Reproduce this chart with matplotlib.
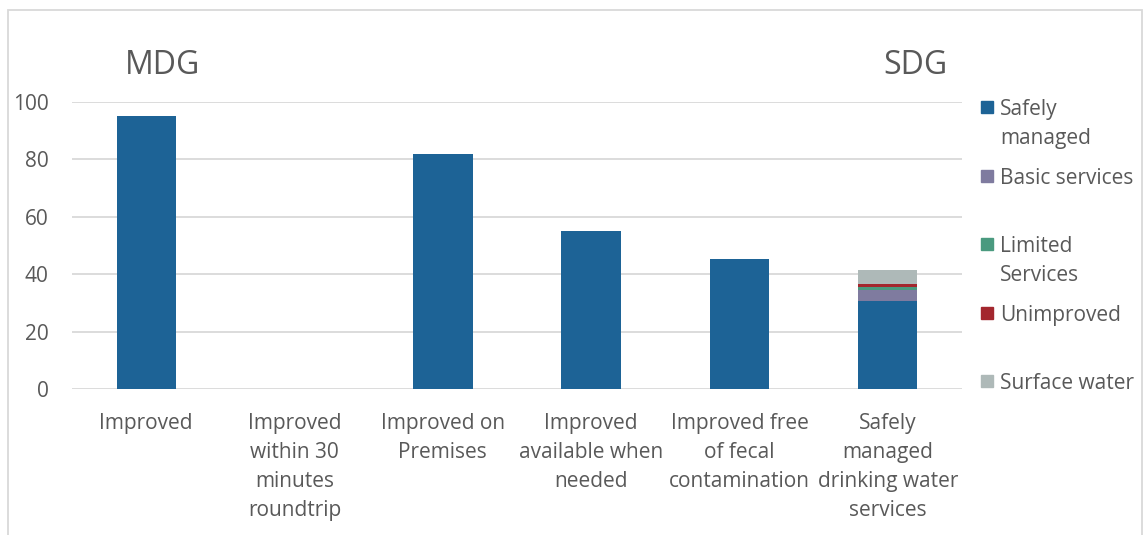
import matplotlib.pyplot as plt
from matplotlib.patches import Rectangle
import numpy as np

plt.rcParams['font.family'] = ['Open Sans', 'DejaVu Sans']

categories = ["Improved", "Improved\nwithin 30\nminutes\nroundtrip", "Improved on\nPremises",
              "Improved\navailable when\nneeded", "Improved free\nof fecal\ncontamination",
              "Safely\nmanaged\ndrinking water\nservices"]

# MDG indicator bars (the 30-minute one has no value)
mdg_values = [95, 0, 82, 55, 45.3, 0]

# SDG ladder, stacked on the last category
sdg_labels = ["Safely\nmanaged", "Basic services", "Limited\nServices", "Unimproved", "Surface water"]
sdg_values = [30.7, 3.8, 1.0, 1.2, 4.8]
sdg_colors = ["#1d6396", "#7f7b9f", "#4a9a7f", "#a3272e", "#aeb9b8"]

W, H = 1146, 535
fig = plt.figure(figsize=(W / 100, H / 100), dpi=100)
ax = fig.add_axes([72 / W, (H - 389) / H, (962 - 72) / W, (389 - 102) / H])

x = np.arange(len(categories))
ax.bar(x[:5], mdg_values[:5], width=0.4, color=sdg_colors[0], zorder=3)

bottom = 0
for val, col in zip(sdg_values, sdg_colors):
    ax.bar(x[5], val, bottom=bottom, width=0.4, color=col, zorder=3)
    bottom += val

ax.set_xlim(-0.5, len(categories) - 0.5)
ax.set_ylim(0, 100)
ax.set_yticks(range(0, 101, 20))
ax.yaxis.grid(True, color="#d9d9d9", linewidth=1.3, zorder=0)
ax.set_xticks(x)
ax.set_xticklabels(categories, linespacing=1.51, va="top")
ax.tick_params(axis="both", length=0, labelsize=15, labelcolor="#595959")
ax.tick_params(axis="y", pad=17)
ax.tick_params(axis="x", pad=17)
for s in ax.spines.values():
    s.set_visible(False)

fig.text(163 / W, 1 - 65 / H, "MDG", fontsize=23, color="#595959", ha="center", va="center")
fig.text(915 / W, 1 - 65 / H, "SDG", fontsize=23, color="#595959", ha="center", va="center")

# legend drawn by hand so the wrapped labels line up like the original
for i, (lab, col) in enumerate(zip(sdg_labels, sdg_colors)):
    ymark = 107 + 68.5 * i
    fig.patches.append(Rectangle((981 / W, 1 - (ymark + 6) / H), 12 / W, 12 / H,
                                 transform=fig.transFigure, color=col))
    fig.text(1000 / W, 1 - (ymark - 8) / H, lab, fontsize=15, color="#595959",
             ha="left", va="top", linespacing=1.51)

# outer chart frame
fig.patches.append(Rectangle((8 / W, -10 / H), (1142 - 8) / W, (H - 10 + 10) / H,
                             transform=fig.transFigure, fill=False, edgecolor="#d9d9d9",
                             linewidth=1.3))

fig.savefig("out.png", dpi=100)
